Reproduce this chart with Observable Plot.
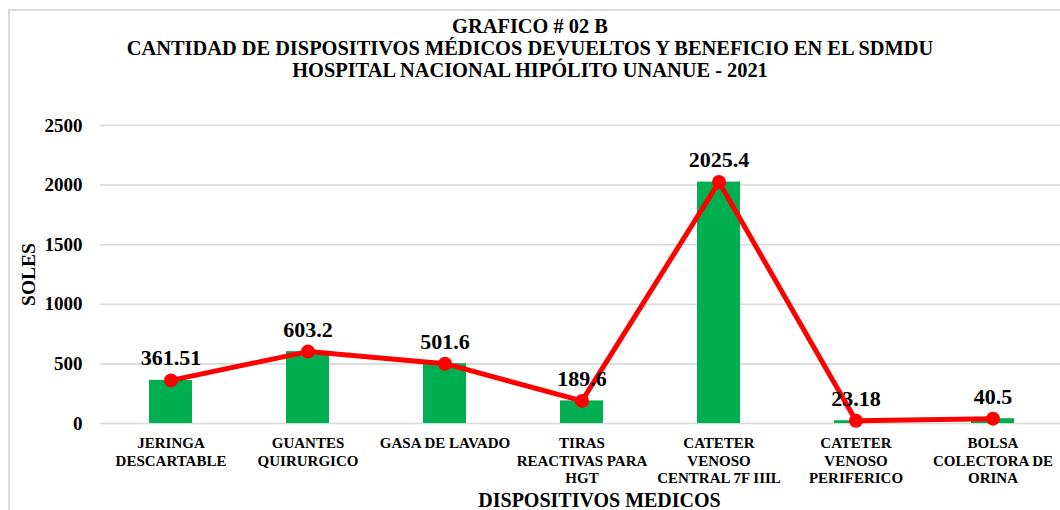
<!DOCTYPE html>
<html><head><meta charset="utf-8">
<script src="https://cdn.jsdelivr.net/npm/d3@7"></script>
<script src="https://cdn.jsdelivr.net/npm/@observablehq/plot@0.6"></script>
<style>
html,body{margin:0;padding:0;background:#fff;overflow:hidden;width:1060px;height:510px;}
#frame{position:absolute;left:8px;top:9px;width:1100px;height:600px;border-left:2px solid #d9d9d9;border-top:2px solid #d9d9d9;}
#title{position:absolute;left:0;top:15px;width:1060px;text-align:center;font:bold 20.4px "Liberation Serif","Times New Roman",serif;line-height:22px;color:#000;}
#chart{position:absolute;left:0;top:88px;}
</style></head><body>
<div id="frame"></div>
<div id="title">GRAFICO # 02 B<br>CANTIDAD DE DISPOSITIVOS MÉDICOS DEVUELTOS Y BENEFICIO EN EL SDMDU<br>HOSPITAL NACIONAL HIPÓLITO UNANUE - 2021</div>
<div id="chart"></div>
<script>
const categories = ["JERINGA DESCARTABLE", "GUANTES QUIRURGICO", "GASA DE LAVADO", "TIRAS REACTIVAS PARA HGT", "CATETER VENOSO CENTRAL 7F IIIL", "CATETER VENOSO PERIFERICO", "BOLSA COLECTORA DE ORINA"];
const tickLabels = ["JERINGA\nDESCARTABLE", "GUANTES\nQUIRURGICO", "GASA DE LAVADO", "TIRAS\nREACTIVAS PARA\nHGT", "CATETER\nVENOSO\nCENTRAL 7F IIIL", "CATETER\nVENOSO\nPERIFERICO", "BOLSA\nCOLECTORA DE\nORINA"];
const values = [361.51, 603.2, 501.6, 189.6, 2025.4, 23.18, 40.5];
const yTicks = [0, 500, 1000, 1500, 2000, 2500];
const yTitle = "SOLES";
const xTitle = "DISPOSITIVOS MEDICOS";

const data = categories.map((c, i) => ({category: c, value: values[i]}));
const labelOf = new Map(categories.map((c, i) => [c, tickLabels[i]]));
const FONT = '"Liberation Serif", "Times New Roman", serif';

const plot = Plot.plot({
  width: 1060, height: 422,
  marginTop: 37, marginBottom: 87, marginLeft: 100, marginRight: 0,
  style: {fontFamily: FONT, fontWeight: "bold", color: "#000", background: "transparent", overflow: "visible"},
  x: {domain: categories, range: [99.6, 1064], padding: 0},
  y: {domain: [0, 2500]},
  marks: [
    Plot.ruleY(yTicks, {stroke: "#d9d9d9", strokeWidth: 1.6}),
    Plot.barY(data, {x: "category", y: "value", fill: "#00b050", insetLeft: 47, insetRight: 47}),
    Plot.line(data, {x: "category", y: "value", stroke: "#ff0000", strokeWidth: 5}),
    Plot.dot(data, {x: "category", y: "value", r: 7, fill: "#ff0000", stroke: "none"}),
    Plot.text(data, {x: "category", y: "value", text: d => String(d.value), lineAnchor: "bottom", dy: -15, fontSize: 22, fontWeight: "bold", fill: "#000"}),
    Plot.axisY(yTicks, {tickSize: 0, tickPadding: 18, tickFormat: d => String(d), fontSize: 19, fontWeight: "bold", label: null}),
    Plot.axisX({tickSize: 0, tickPadding: 12, tickFormat: c => labelOf.get(c), fontSize: 15, lineHeight: 1.17, fontWeight: "bold", label: null}),
    Plot.text([yTitle], {frameAnchor: "left", dx: -71.5, rotate: -90, textAnchor: "middle", lineAnchor: "middle", fontSize: 19.5, fontWeight: "bold", fill: "#000"}),
    Plot.text([xTitle], {frameAnchor: "bottom", dx: 19, dy: 77, textAnchor: "middle", lineAnchor: "middle", fontSize: 20, fontWeight: "bold", fill: "#000"})
  ]
});
document.getElementById("chart").appendChild(plot);
</script>
</body></html>
